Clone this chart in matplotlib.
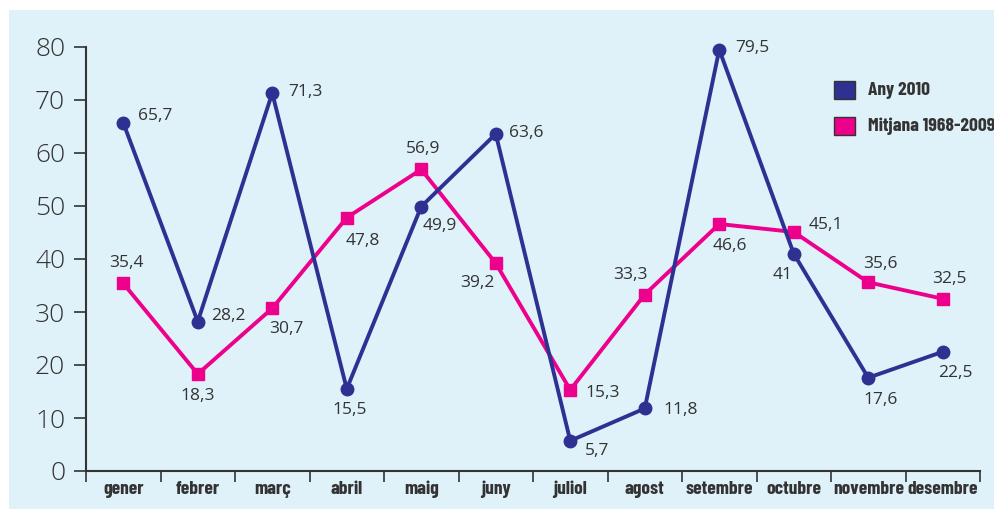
import matplotlib.pyplot as plt
from matplotlib.patches import Rectangle

months = ['gener', 'febrer', 'març', 'abril', 'maig', 'juny', 'juliol',
          'agost', 'setembre', 'octubre', 'novembre', 'desembre']
any_2010 = [65.7, 28.2, 71.3, 15.5, 49.9, 63.6, 5.7, 11.8, 79.5, 41, 17.6, 22.5]
mitjana = [35.4, 18.3, 30.7, 47.8, 56.9, 39.2, 15.3, 33.3, 46.6, 45.1, 35.6, 32.5]
y_ticks = [0, 10, 20, 30, 40, 50, 60, 70, 80]
series_names = ['Any 2010', 'Mitjana 1968-2009']

# label offsets (points) for each data label
off_blue = [(23, 5), (22, 4), (24, 1), (2, -15), (13, -14), (22, 1),
            (19, -7), (26, -1), (24, 1), (-8, -15), (9, -16), (9, -15)]
off_pink = [(2, 15), (0, -15.5), (10, -15), (11.5, -16.5), (1, 15), (-13, -14),
            (23, -2), (-10, 14), (8, -16), (23, 5), (9, 13), (5, 14)]

BLUE = '#2e3192'
PINK = '#ec008c'
BG = '#dff1f9'
TXT = '#333333'
COND = ['Barlow Condensed', 'DejaVu Sans']
NUMF = ['Open Sans', 'DejaVu Sans']
W, H = 994, 509

fig = plt.figure(figsize=(W / 100, H / 100), dpi=100, facecolor='white')
fig.patches.append(Rectangle((9 / W, 0), 1, 1 - 10 / H, transform=fig.transFigure,
                             facecolor=BG, edgecolor='none', zorder=-10))
ax = fig.add_axes([86 / W, 38 / H, 894 / W, 424 / H])
ax.set_facecolor('none')

x = list(range(len(months)))
ax.plot(x, mitjana, color=PINK, lw=2.8, marker='s', ms=9, zorder=3,
        clip_on=False)
ax.plot(x, any_2010, color=BLUE, lw=2.8, marker='o', ms=9, zorder=4,
        clip_on=False)

for i in x:
    ax.annotate(f'{any_2010[i]:g}'.replace('.', ','), (i, any_2010[i]),
                xytext=off_blue[i], textcoords='offset points', ha='center',
                va='center', fontsize=12.5, color=TXT, family=NUMF)
    ax.annotate(f'{mitjana[i]:g}'.replace('.', ','), (i, mitjana[i]),
                xytext=off_pink[i], textcoords='offset points', ha='center',
                va='center', fontsize=12.5, color=TXT, family=NUMF)

ax.set_xlim(-0.5, len(months) - 0.5)
ax.set_ylim(0, 80)
ax.set_yticks(y_ticks)
ax.set_yticklabels([str(v) for v in y_ticks], fontsize=19, color=TXT,
                   family=NUMF, fontweight='light')
ax.tick_params(axis='y', length=9, width=1.2, color=TXT, pad=6)

# boundary ticks between months, labels centered on months
ax.set_xticks([i + 0.5 for i in range(-1, len(months))])
ax.set_xticklabels([])
ax.tick_params(axis='x', length=8, width=1.2, color=TXT)
ax.set_xticks(x, minor=True)
ax.set_xticklabels(months, minor=True, fontsize=14, fontweight='bold',
                   color=TXT, family=COND)
ax.tick_params(axis='x', which='minor', length=0, pad=7)

for s in ['top', 'right']:
    ax.spines[s].set_visible(False)
for s in ['left', 'bottom']:
    ax.spines[s].set_color(TXT)
    ax.spines[s].set_linewidth(1.5)

# legend: coloured squares with labels, top right
for k, (name, col) in enumerate(zip(series_names, [BLUE, PINK])):
    yc = 90 + 36 * k
    fig.patches.append(Rectangle((834 / W, 1 - (yc + 8.5) / H), 21 / W, 17 / H,
                                 transform=fig.transFigure, facecolor=col,
                                 edgecolor=TXT, lw=1))
    fig.text(868 / W, 1 - yc / H, name, ha='left', va='center', fontsize=14,
             fontweight='bold', color=TXT, family=COND)

fig.savefig('out.png', dpi=100, facecolor='white')
